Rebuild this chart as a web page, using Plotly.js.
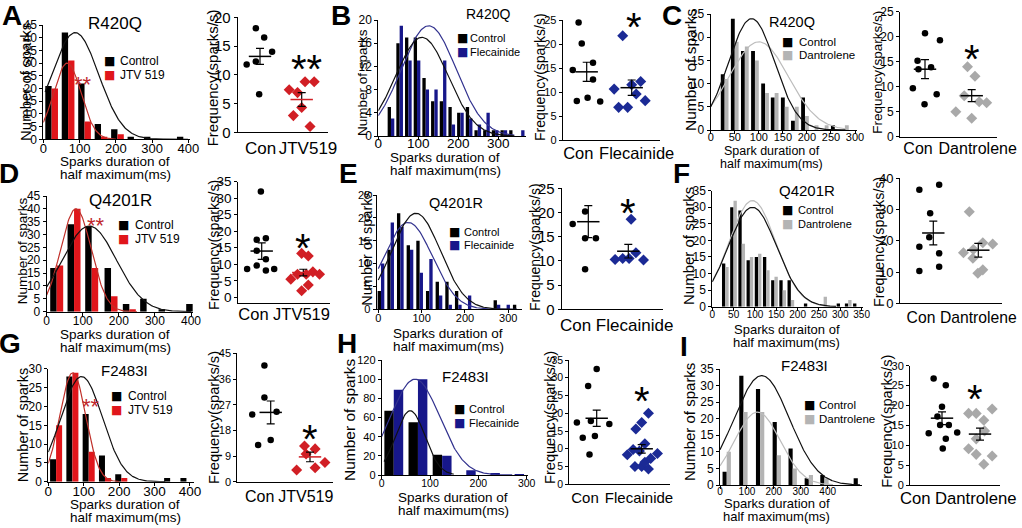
<!DOCTYPE html>
<html><head><meta charset="utf-8">
<script src="https://cdn.plot.ly/plotly-3.0.1.min.js"></script>
<style>html,body{margin:0;padding:0;background:#fff}#plot{width:1022px;height:528px}</style>
</head><body><div id="plot"></div>
<script>
// ---------------- DATA ----------------
// A: R420Q + JTV 519
const A_bins = [23, 68.4, 113.8, 159.2, 204.6, 250, 295.4, 340.8, 386.2];
const A_control = [21, 42, 22, 6, 4, 1, 1, 0, 1];
const A_drug = [20, 31, 7, 1, 2, 0, 0, 0, 0];
const A_fitControl = [88, 65, 42];   // mean, sd, peak
const A_fitDrug = [66, 38, 30];
const A_conFreq = [11.8, 18.1, 16.5, 14.0, 12.3, 6.6];
const A_drugFreq = [7.4, 6.9, 2.9, 4.3, 8.8, 8.8, 1.0];
const A_mean = [13.2, 5.7];
const A_sem = [1.4, 1.2];
const A_conJit = [-0.32, -0.10, 0.10, 0.29, -0.10, -0.02];
const A_drugJit = [-0.30, -0.10, -0.20, 0, 0.08, 0.30, 0.20];
// B: R420Q + Flecainide
const B_bins = [31.7, 53.4, 75.1, 96.8, 118.5, 140.2, 161.9, 183.6, 205.3, 227, 248.7, 270.4, 292.1, 313.8, 335.5, 357.2];
const B_control = [5, 16, 17, 17, 10, 6, 6, 5, 4, 5, 1, 1, 1, 1, 1, 0];
const B_drug = [3, 19, 13, 13, 8, 8, 13, 2, 4, 3, 2, 4, 1, 1, 0, 1];
const B_fitControl = [109, 66, 17];
const B_fitDrug = [126, 68.6, 19];
const B_conFreq = [8.1, 20.1, 24.5, 14.6, 16.1, 12.6, 8.8, 8.0];
const B_drugFreq = [10.6, 6.8, 6.8, 11.5, 9.6, 12.2, 8.2, 21.7];
const B_mean = [14.2, 10.9];
const B_sem = [2.0, 1.6];
const B_conJit = [-0.22, -0.11, -0.18, -0.31, 0.14, 0.14, 0.02, 0.30];
const B_drugJit = [-0.39, -0.29, -0.09, 0, 0.10, 0.20, 0.30, -0.20];
// C: R420Q + Dantrolene
const C_bins = [29, 50, 71, 92, 113, 133, 154, 175, 196, 216, 237, 258, 279];
const C_control = [12, 24, 17, 17, 10, 7, 7, 2, 7, 0, 0, 1, 0];
const C_drug = [11, 19, 18, 15, 8, 8, 5, 5, 3, 1, 1, 0, 1];
const C_fitControl = [85, 48, 24];
const C_fitDrug = [100, 61.5, 19];
const C_conFreq = [9.7, 15.2, 13.5, 20.7, 13.9, 6.5, 8.5, 19.3];
const C_drugFreq = [5.0, 8.2, 14.0, 12.1, 3.7, 7.0, 6.8];
const C_mean = [13.5, 8.2];
const C_sem = [1.9, 1.2];
const C_conJit = [-0.26, -0.16, -0.14, 0, 0.13, -0.01, 0.25, 0.32];
const C_drugJit = [-0.34, -0.16, -0.09, 0.07, 0, 0.16, 0.32];
// D: Q4201R + JTV 519
const D_bins = [27.7, 75.8, 124.7, 178.3, 229, 277, 328, 404.6];
const D_control = [17, 34, 33, 17, 3, 5, 1, 3];
const D_drug = [18, 40, 17, 6, 1, 0, 0, 0];
const D_fitControl = [118, 75, 33.3];
const D_fitDrug = [81, 42.5, 40];
const D_conFreq = [8.6, 32, 17.4, 17.9, 14.1, 11.5, 9.6, 8.1, 8.6];
const D_drugFreq = [5.5, 7, 13.3, 12.5, 7, 7.7, 7, 3.7, 2.0];
const D_mean = [14.0, 7.5];
const D_sem = [2.5, 1.0];
const D_conJit = [-0.35, -0.02, -0.12, 0.10, -0.12, 0.10, -0.12, 0.10, 0.30];
const D_drugJit = [-0.30, -0.14, -0.04, 0.12, 0.07, 0.23, 0.39, 0.12, -0.04];
// E: Q4201R + Flecainide
const E_bins = [6.2, 28.5, 50.8, 73.1, 95.4, 117.7, 140, 162.3, 184.6, 206.9, 229.2, 251.5, 273.8, 296.1, 318.4];
const E_control = [4, 13, 21, 14, 15, 4, 6, 6, 4, 0, 0, 0, 2, 0, 1];
const E_drug = [10, 19, 18, 13, 8, 11, 3, 1, 1, 3, 0, 0, 1, 1, 0];
const E_fitControl = [87, 56.5, 21];
const E_fitDrug = [69, 56, 19];
const E_conFreq = [17.6, 20.2, 14.7, 14.7, 8.3];
const E_drugFreq = [10.3, 10.5, 10.5, 11.7, 10.2, 18.6];
const E_mean = [18.1, 12.0];
const E_sem = [3.3, 1.4];
const E_conJit = [-0.39, -0.08, -0.08, 0.19, -0.08];
const E_drugJit = [-0.33, -0.14, 0.02, 0.19, 0.38, 0.07];
// F: Q4201R + Dantrolene
const F_bins = [30.5, 49.7, 68.9, 88.1, 107.3, 126.5, 145.7, 164.9, 184.1, 203.3, 222.5, 241.7, 260.9, 280.1, 299.3, 318.5, 337.7];
const F_control = [13, 30, 29, 14, 15, 15, 8, 8, 8, 0, 1, 0, 0, 0, 1, 1, 1];
const F_drug = [12, 32, 19, 15, 16, 11, 9, 5, 2, 0, 0, 0, 3, 0, 0, 2, 0];
const F_fitControl = [94, 56.5, 30];
const F_fitDrug = [94, 55, 32];
const F_conFreq = [36.3, 37.9, 28.8, 21.1, 18.1, 10.3, 16, 11.7];
const F_drugFreq = [29.3, 16.2, 17.2, 14.4, 19.4, 19, 9.6, 10.7];
const F_mean = [22.5, 17.0];
const F_sem = [3.8, 2.2];
const F_conJit = [-0.31, 0.13, -0.07, -0.09, -0.31, -0.31, 0.13, 0.13];
const F_drugJit = [-0.20, -0.33, -0.11, -0.12, 0.10, 0.32, -0.01, 0.10];
// G: F2483I + JTV 519
const G_bins = [22, 68, 114, 160, 206, 252, 298, 344, 390];
const G_control = [6, 28, 18, 7, 2, 0, 0, 1, 1];
const G_drug = [15, 29, 8, 1, 1, 0, 0, 0, 0];
const G_fitControl = [94, 59, 28];
const G_fitDrug = [69, 36.6, 29];
const G_conFreq = [23.6, 12.9, 40.7, 29.5, 14.6, 24.5];
const G_drugFreq = [4.1, 12.5, 9.7, 11.5, 4.9, 6.7];
const G_mean = [24.3, 8.7];
const G_sem = [4.0, 1.7];
const G_conJit = [-0.47, -0.32, -0.16, -0.16, 0, 0.15];
const G_drugJit = [-0.34, -0.14, -0.10, 0.13, 0.13, 0.38];
// H: F2483I + Flecainide
const H_bins = [25, 75, 125, 175, 225, 275];
const H_control = [67, 55, 21, 0, 0, 0];
const H_drug = [89, 100, 20, 5, 2, 1];
const H_fitControl = [59, 30.5, 67];
const H_fitDrug = [69, 51, 100];
const H_conFreq = [17.4, 13.1, 27.7, 17.8, 32.5, 13.6, 8.4, 17];
const H_drugFreq = [8.3, 9.8, 15.6, 17.4, 20, 9.4, 11.4, 5.0, 5.0, 4.3, 6.2, 7.3, 8.7];
const H_mean = [18.6, 10.0];
const H_sem = [2.3, 1.2];
const H_conJit = [-0.44, -0.31, -0.19, -0.13, 0, -0.04, -0.16, 0.28];
const H_drugJit = [-0.32, -0.19, -0.13, 0, 0.15, -0.05, 0.07, -0.15, 0, 0.15, 0.07, 0.2, 0.35];
// I: F2483I + Dantrolene
const I_bins = [25, 87, 149, 211, 270, 330, 388, 512];
const I_control = [4, 33, 29, 19, 11, 2, 3, 2];
const I_drug = [10, 22, 22, 9, 5, 3, 2, 0];
const I_fitControl = [155, 103, 33];
const I_fitDrug = [139, 85, 22];
const I_conFreq = [13, 26.8, 17.2, 15.1, 19.7, 25.1, 15.1, 11.6, 9.2, 13.2];
const I_drugFreq = [18, 9.1, 18, 7.7, 5.2, 16.3, 11.6, 13.6, 19.1, 7.3];
const I_mean = [16.8, 12.8];
const I_sem = [1.6, 1.5];
const I_conJit = [-0.35, -0.22, -0.12, -0.05, 0.0, 0.10, 0.18, 0.10, 0.02, 0.40];
const I_drugJit = [-0.30, -0.30, -0.10, -0.10, 0.10, 0.10, -0.10, 0.12, 0.32, 0.32];
// axis tick values
const histTicksI = [0, 100, 200, 300, 400];

// ---------------- STYLE / LAYOUT ----------------
const W = 1022, H = 528;
const FONT = 'Liberation Sans, Arial, Helvetica, sans-serif';
const RED = {bar:'#e0161b', curve:'#c0302a', dot:'#d11f25', sig:'#c0282d', name:'JTV 519', label:'JTV519', mean:'#d11f25'};
const BLUE = {bar:'#17178a', curve:'#33338f', dot:'#1b2a95', name:'Flecainide', label:'Flecainide', mean:'#000'};
const GRAY = {bar:'#b4b4b4', curve:'#bdbdbd', dot:'#a9a9a9', name:'Dantrolene', label:'Dantrolene', mean:'#000'};

const panels = [
 {L:'A', lp:[11.7,16], mut:'R420Q', dr:RED, bins:A_bins, c:A_control, d:A_drug, fc:A_fitControl, fd:A_fitDrug, cf:A_conFreq, df:A_drugFreq, mean:A_mean, sem:A_sem, cj:A_conJit, dj:A_drugJit,
  h:{x0:43.3,kx:0.3625,xr:[0,404.6],xd:100,y0:139.3,ky:2.54,yr:[0,45],yd:5,xf:13,yf:12,bw:17.5,cc:[5,400],cd:[0,200],xs:-6},
  s:{x0:237.7,x1:328,c1:260,c2:301.7,y0:132.3,ky:5.75,yr:[0,20],yd:5,tf:15,lf:17,l1:260.5,l2:308,ls:0},
  t:[115,23,17], lg:{sq:109.3,tx:118,r:[61.5,75],f:12}, hy:[26,82,15], xt:{cx:115,y1:161.5,y2:174,f:13.5,l1:'Sparks duration of'}, sy:[213.3,78,15],
  hs:[83,79,22], ss:[306.7,60,40,'**']},
 {L:'B', lp:[341,16], mut:'R420Q', dr:BLUE, bins:B_bins, c:B_control, d:B_drug, fc:B_fitControl, fd:B_fitDrug, cf:B_conFreq, df:B_drugFreq, mean:B_mean, sem:B_sem, cj:B_conJit, dj:B_drugJit,
  h:{x0:378.3,kx:0.4,xr:[0,368],xd:100,y0:136,ky:5.8,yr:[0,20],yd:4,xf:13.5,yf:12,bw:8.3,cc:[0,340],cd:[0,340],xs:-8},
  s:{x0:562.7,x1:660,c1:586.7,c2:631.7,y0:140,ky:4.8,yr:[0,25],yd:5,tf:11,lf:16.5,l1:578.3,l2:636.7,ls:-2},
  t:[488,14,14], lg:{sq:462.5,tx:467.7,r:[38,51.7],f:11}, hy:[362,83,13.5], xt:{cx:445,y1:157.5,y2:170.5,f:13.5,l1:'Sparks duration of'}, sy:[540,77,14],
  hs:null, ss:[634,18,40,'*']},
 {L:'C', lp:[672,15], mut:'R420Q', dr:GRAY, bins:C_bins, c:C_control, d:C_drug, fc:C_fitControl, fd:C_fitDrug, cf:C_conFreq, df:C_drugFreq, mean:C_mean, sem:C_sem, cj:C_conJit, dj:C_drugJit,
  h:{x0:710.7,kx:0.481,xr:[0,303.5],xd:50,y0:130,ky:4.64,yr:[0,25],yd:5,xf:11,yf:12,bw:8,cc:[0,280],cd:[0,280],xs:-6},
  s:{x0:900,x1:997,c1:925,c2:971.7,y0:136.7,ky:5.0,yr:[0,25],yd:5,tf:12,lf:16,l1:918,l2:977.7,ls:-3},
  t:[791.7,21.7,14.5], lg:{sq:787.5,tx:796.7,r:[41.5,55.2],f:11.5}, hy:[690,70,15.5], xt:{cx:771.7,y1:151.5,y2:164,f:12.5,l1:'Spark duration of'}, sy:[876.7,72,13.5],
  hs:null, ss:[971.7,50,40,'*']},
 {L:'D', lp:[9,173], mut:'Q4201R', dr:RED, bins:D_bins, c:D_control, d:D_drug, fc:D_fitControl, fd:D_fitDrug, cf:D_conFreq, df:D_drugFreq, mean:D_mean, sem:D_sem, cj:D_conJit, dj:D_drugJit,
  h:{x0:46.7,kx:0.3608,xr:[0,406],xd:100,y0:311.7,ky:2.571,yr:[0,45],yd:5,xf:12,yf:12,bw:18,cc:[0,400],cd:[0,250],xs:-5},
  s:{x0:238.3,x1:330,c1:261.7,c2:303.3,y0:297.3,ky:3.303,yr:[-1.6,35],yd:5,tf:13.5,lf:16.5,l1:253.5,l2:301.5,ls:-3},
  t:[120,200,17], lg:{sq:123.3,tx:132.7,r:[225.5,239.2],f:12}, hy:[23.3,251,13.5], xt:{cx:115,y1:334,y2:347,f:13.5,l1:'Sparks duration of'}, sy:[214,245,14.3],
  hs:[95.8,220,22], ss:[302.7,238.3,40,'*']},
 {L:'E', lp:[348,173], mut:'Q4201R', dr:BLUE, bins:E_bins, c:E_control, d:E_drug, fc:E_fitControl, fd:E_fitDrug, cf:E_conFreq, df:E_drugFreq, mean:E_mean, sem:E_sem, cj:E_conJit, dj:E_drugJit,
  h:{x0:378.3,kx:0.4333,xr:[-4,331],xd:100,y0:309.3,ky:4.572,yr:[0,25],yd:5,xf:11,yf:11,bw:7.7,cc:[0,320],cd:[0,320],xs:-5},
  s:{x0:561.7,x1:663,c1:588.3,c2:628.3,y0:309.3,ky:4.84,yr:[0,25],yd:5,tf:15,lf:17,l1:575.6,l2:634.6,ls:-1.5},
  t:[455.8,203.3,14.5], lg:{sq:454,tx:461.7,r:[231.5,245.2],f:11}, hy:[366.7,249,14.5], xt:{cx:448.3,y1:333.5,y2:346.5,f:13.5,l1:'Sparks duration of'}, sy:[535,247,14],
  hs:null, ss:[627.7,203.3,40,'*']},
 {L:'F', lp:[681,173], mut:'Q4201R', dr:GRAY, bins:F_bins, c:F_control, d:F_drug, fc:F_fitControl, fd:F_fitDrug, cf:F_conFreq, df:F_drugFreq, mean:F_mean, sem:F_sem, cj:F_conJit, dj:F_drugJit,
  h:{x0:712.3,kx:0.4267,xr:[0,354],xd:50,y0:306.7,ky:3.314,yr:[0,35],yd:5,xf:10,yf:12,bw:7.8,cc:[0,290],cd:[0,290],xs:-5},
  s:{x0:900,x1:1001.7,c1:933.3,c2:978.3,y0:303.3,ky:3.125,yr:[0,40],yd:10,tf:13,lf:15.7,l1:921,l2:978.3,ls:-1.3},
  t:[806.7,190,15], lg:{sq:787.5,tx:795.7,r:[209.8,223.5],f:11}, hy:[689,246,15], xt:{cx:786.7,y1:329,y2:342,f:13,l1:'Sparks duraiton of'}, sy:[879,242,14.3],
  hs:null, ss:null},
 {L:'G', lp:[10,343], mut:'F2483I', dr:RED, bins:G_bins, c:G_control, d:G_drug, fc:G_fitControl, fd:G_fitDrug, cf:G_conFreq, df:G_drugFreq, mean:G_mean, sem:G_sem, cj:G_conJit, dj:G_drugJit,
  h:{x0:48.3,kx:0.3542,xr:[0,410],xd:100,y0:481.7,ky:3.757,yr:[0,30],yd:5,xf:13.5,yf:12,bw:17,cc:[0,330],cd:[0,200],xs:-6},
  s:{x0:237.3,x1:333,c1:270.7,c2:310,y0:481.7,ky:2.852,yr:[0,45],yd:9,tf:11,lf:16,l1:259.7,l2:305.8,ls:-1.6},
  t:[124,370,15], lg:{sq:116.7,tx:126,r:[396,409.7],f:12}, hy:[23.3,425,14.5], xt:{cx:125,y1:504.5,y2:517.8,f:13.5,l1:'Sparks duration of'}, sy:[214,418,14.6],
  hs:[90.8,401.7,22], ss:[310,430,40,'*']},
 {L:'H', lp:[347,343], mut:'F2483I', dr:BLUE, bins:H_bins, c:H_control, d:H_drug, fc:H_fitControl, fd:H_fitDrug, cf:H_conFreq, df:H_drugFreq, mean:H_mean, sem:H_sem, cj:H_conJit, dj:H_drugJit,
  h:{x0:381.7,kx:0.4833,xr:[0,303],xd:100,y0:475,ky:0.9583,yr:[0,120],yd:20,xf:10.5,yf:11,bw:19.5,cc:[5,150],cd:[0,270],xs:-5},
  s:{x0:569.3,x1:670,c1:596.7,c2:641.7,y0:484.3,ky:3.551,yr:[0,35],yd:5,tf:10.5,lf:15,l1:585,l2:639,ls:0},
  t:[465.8,376.7,15], lg:{sq:459,tx:467.3,r:[408.8,422.5],f:11}, hy:[349,420,15.5], xt:{cx:453.3,y1:497.5,y2:510.8,f:13.5,l1:'Sparks duration of'}, sy:[550,418,14.6],
  hs:null, ss:[641.7,391.7,40,'*']},
 {L:'I', lp:[684,346], mut:'F2483I', dr:GRAY, bins:I_bins, c:I_control, d:I_drug, fc:I_fitControl, fd:I_fitDrug, cf:I_conFreq, df:I_drugFreq, mean:I_mean, sem:I_sem, cj:I_conJit, dj:I_drugJit,
  h:{x0:720,kx:0.2692,xr:[0,526],xd:100,xv:histTicksI,y0:485,ky:3.314,yr:[0,35],yd:5,xf:10,yf:12,bw:15.5,cc:[0,520],cd:[0,420],xs:-6},
  s:{x0:910,x1:1000,c1:942,c2:980,y0:485,ky:3.978,yr:[0,30],yd:5,tf:11,lf:16.7,l1:915.3,l2:975.8,ls:-2},
  t:[804,365,15], lg:{sq:809,tx:816.7,r:[404.8,418.5],f:11.5}, hy:[689,422,15], xt:{cx:776.7,y1:503,y2:516,f:13,l1:'Sparks duration of'}, sy:[887,421.7,14.6],
  hs:null, ss:[975,390,40,'*']}
];

function gauss(fit, a, b) {
  const xs = [], ys = [];
  for (let x = a; x <= b + 1e-9; x += 2) {
    xs.push(x);
    ys.push(fit[2] * Math.exp(-((x - fit[0]) ** 2) / (2 * fit[1] * fit[1])));
  }
  return {xs, ys};
}
const PX = p => p / W, PY = p => 1 - p / H;
const axName = (k, i) => k + 'axis' + (i === 1 ? '' : i);
const axRef = (k, i) => k + (i === 1 ? '' : i);

const traces = [];
const annotations = [];
const layout = {
  width: W, height: H, margin: {l: 0, r: 0, t: 0, b: 0}, showlegend: false, barmode: 'overlay',
  paper_bgcolor: '#fff', plot_bgcolor: 'rgba(0,0,0,0)', font: {family: FONT, color: '#000', size: 12},
  annotations: annotations
};
function baseAxis() {
  return {showline: true, linecolor: '#000', linewidth: 1, showgrid: false, zeroline: false, fixedrange: true,
          ticks: 'outside', ticklen: 3, tickwidth: 1, tickcolor: '#000', tickangle: 0, tickfont: {family: FONT, color: '#000'}};
}
function txt(text, x, y, size, opts) {
  annotations.push(Object.assign({text: text, x: PX(x), y: PY(y), xref: 'paper', yref: 'paper', showarrow: false,
    xanchor: 'center', yanchor: 'middle', font: {family: FONT, size: size, color: '#000'}}, opts || {}));
}

panels.forEach((p, i) => {
  const hi = 2 * i + 1, si = 2 * i + 2;
  const hx = axRef('x', hi), hy = axRef('y', hi), sx = axRef('x', si), sy = axRef('y', si);
  const h = p.h, s = p.s;
  // histogram axes
  const xa = Object.assign(baseAxis(), {
    domain: [PX(h.x0 + h.xr[0] * h.kx), PX(h.x0 + h.xr[1] * h.kx)], range: h.xr, anchor: hy,
    ticklabelstandoff: h.xs, tickfont: {family: FONT, size: h.xf, color: '#000'}});
  if (h.xv) { xa.tickmode = 'array'; xa.tickvals = h.xv; } else { xa.tickmode = 'linear'; xa.tick0 = 0; xa.dtick = h.xd; }
  layout[axName('x', hi)] = xa;
  layout[axName('y', hi)] = Object.assign(baseAxis(), {
    domain: [PY(h.y0 - h.yr[0] * h.ky), PY(h.y0 - h.yr[1] * h.ky)], range: h.yr, anchor: hx,
    tickmode: 'linear', tick0: 0, dtick: h.yd, tickfont: {family: FONT, size: h.yf, color: '#000'}});
  // bars
  traces.push({type: 'bar', x: p.bins, y: p.c, width: h.bw, offset: -h.bw, xaxis: hx, yaxis: hy,
    marker: {color: '#000', line: {width: 0}}, hoverinfo: 'skip'});
  traces.push({type: 'bar', x: p.bins, y: p.d, width: h.bw, offset: 0, xaxis: hx, yaxis: hy,
    marker: {color: p.dr.bar, line: {width: 0}}, hoverinfo: 'skip'});
  // fitted curves
  const gc = gauss(p.fc, h.cc[0], h.cc[1]);
  const gd = gauss(p.fd, h.cd[0], h.cd[1]);
  traces.push({type: 'scatter', mode: 'lines', x: gd.xs, y: gd.ys, xaxis: hx, yaxis: hy, line: {color: p.dr.curve, width: 1.2}, hoverinfo: 'skip'});
  traces.push({type: 'scatter', mode: 'lines', x: gc.xs, y: gc.ys, xaxis: hx, yaxis: hy, line: {color: '#111', width: 1.2}, hoverinfo: 'skip'});

  // scatter axes
  const u = s.c2 - s.c1;
  layout[axName('x', si)] = Object.assign(baseAxis(), {
    domain: [PX(s.x0), PX(s.x1)], range: [1 - (s.c1 - s.x0) / u, 1 + (s.x1 - s.c1) / u], anchor: sy,
    ticks: '', tickmode: 'array', tickvals: [1 + (s.l1 - s.c1) / u, 1 + (s.l2 - s.c1) / u], ticktext: ['Con', p.dr.label],
    ticklabelstandoff: s.ls, tickfont: {family: FONT, size: s.lf, color: '#000'}});
  layout[axName('y', si)] = Object.assign(baseAxis(), {
    domain: [PY(s.y0 - s.yr[0] * s.ky), PY(s.y0 - s.yr[1] * s.ky)], range: s.yr, anchor: sx,
    tickmode: 'linear', tick0: 0, dtick: s.yd, tickfont: {family: FONT, size: s.tf, color: '#000'}});
  traces.push({type: 'scatter', mode: 'markers', x: p.cj.map(j => 1 + j), y: p.cf, xaxis: sx, yaxis: sy,
    marker: {symbol: 'circle', size: 6.5, color: '#000'}, hoverinfo: 'skip', cliponaxis: false});
  traces.push({type: 'scatter', mode: 'markers', x: p.dj.map(j => 2 + j), y: p.df, xaxis: sx, yaxis: sy,
    marker: {symbol: 'diamond', size: 8.5, color: p.dr.dot}, hoverinfo: 'skip', cliponaxis: false});
  traces.push({type: 'scatter', mode: 'markers', x: [1, 2], y: p.mean, xaxis: sx, yaxis: sy,
    marker: {symbol: 'line-ew', size: 16, color: '#000', line: {width: 1.5, color: ['#000', p.dr.mean]}},
    error_y: {type: 'data', array: p.sem, visible: true, color: '#000', thickness: 1.2, width: 4},
    hoverinfo: 'skip', cliponaxis: false});

  // texts
  txt('<b>' + p.L + '</b>', p.lp[0], p.lp[1], 28);
  txt(p.mut, p.t[0], p.t[1], p.t[2]);
  txt('Number of sparks', p.hy[0], p.hy[1], p.hy[2], {textangle: -90});
  txt(p.xt.l1, p.xt.cx, p.xt.y1, p.xt.f);
  txt('half maximum(ms)', p.xt.cx, p.xt.y2, p.xt.f);
  txt('Frequency(sparks/s)', p.sy[0], p.sy[1], p.sy[2], {textangle: -90});
  // legend
  const lg = p.lg;
  txt('■', lg.sq, lg.r[0], 12, {font: {family: 'DejaVu Sans', size: 12, color: '#000'}});
  txt('■', lg.sq, lg.r[1], 12, {font: {family: 'DejaVu Sans', size: 12, color: p.dr.bar}});
  txt('Control', lg.tx, lg.r[0], lg.f, {xanchor: 'left'});
  txt(p.dr.name, lg.tx, lg.r[1], lg.f, {xanchor: 'left'});
  // significance marks
  if (p.hs) txt('**', p.hs[0], p.hs[1] + 0.23 * p.hs[2], p.hs[2], {font: {family: FONT, size: p.hs[2], color: RED.sig}});
  if (p.ss) txt(p.ss[3], p.ss[0], p.ss[1] + 0.23 * p.ss[2], p.ss[2]);
});

Plotly.newPlot('plot', traces, layout, {staticPlot: true, displayModeBar: false});
</script>
</body></html>
